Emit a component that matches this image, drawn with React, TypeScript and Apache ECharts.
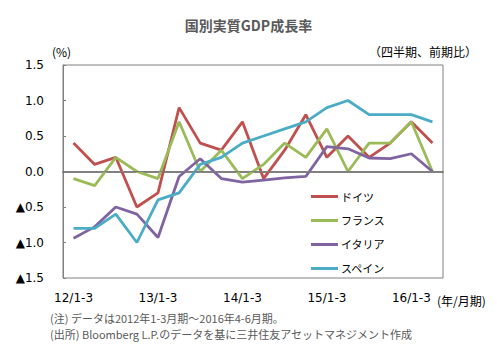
import React, { useEffect, useRef } from "react";
import * as echarts from "echarts";

const categories = [
  "12/1-3", "12/4-6", "12/7-9", "12/10-12",
  "13/1-3", "13/4-6", "13/7-9", "13/10-12",
  "14/1-3", "14/4-6", "14/7-9", "14/10-12",
  "15/1-3", "15/4-6", "15/7-9", "15/10-12",
  "16/1-3", "16/4-6",
];
const germany = [0.4, 0.1, 0.2, -0.5, -0.3, 0.9, 0.4, 0.3, 0.7, -0.1, 0.3, 0.8, 0.2, 0.5, 0.2, 0.4, 0.7, 0.4];
const france = [-0.1, -0.2, 0.2, 0.0, -0.1, 0.7, 0.0, 0.3, -0.1, 0.1, 0.4, 0.2, 0.6, 0.0, 0.4, 0.4, 0.7, 0.0];
const italy = [-0.94, -0.78, -0.5, -0.6, -0.93, -0.07, 0.18, -0.1, -0.15, -0.12, -0.09, -0.07, 0.35, 0.32, 0.19, 0.18, 0.25, 0.0];
const spain = [-0.8, -0.8, -0.6, -1.0, -0.4, -0.3, 0.1, 0.2, 0.4, 0.5, 0.6, 0.7, 0.9, 1.0, 0.8, 0.8, 0.8, 0.7];
const seriesNames = ["ドイツ", "フランス", "イタリア", "スペイン"];
const colors = ["#c0504d", "#9bbb59", "#8064a2", "#4bacc6"];
const notes = [
  "(注) データは2012年1-3月期～2016年4-6月期。",
  "(出所) Bloomberg L.P.のデータを基に三井住友アセットマネジメント作成",
];

const JP = "'Noto Sans CJK JP', 'Noto Sans', sans-serif";
const NUM = "'DejaVu Sans', 'Noto Sans CJK JP', sans-serif";

export default function App() {
  const ref = useRef<HTMLDivElement>(null);
  useEffect(() => {
    document.body.style.margin = "0";
    if (!ref.current) return;
    const chart = echarts.init(ref.current, undefined, { renderer: "svg" });
    const datasets = [germany, france, italy, spain];
    chart.setOption({
      animation: false,
      backgroundColor: "#ffffff",
      title: {
        text: "国別実質GDP成長率",
        left: "center",
        top: 13,
        textStyle: { fontFamily: JP, fontSize: 14, fontWeight: "bold", color: "#595959" },
      },
      legend: {
        orient: "vertical",
        left: 306,
        top: 186,
        itemWidth: 27,
        itemHeight: 3,
        itemGap: 13,
        icon: "rect",
        data: seriesNames,
        textStyle: { fontFamily: JP, fontSize: 11, color: "#000", padding: [0, 0, 0, -2] },
      },
      grid: {
        left: 63,
        top: 65,
        width: 380,
        height: 213,
        show: true,
        borderColor: "#808080",
        borderWidth: 1,
      },
      xAxis: {
        type: "category",
        data: categories,
        boundaryGap: true,
        axisLine: { show: true, lineStyle: { color: "#595959", width: 1.5 } },
        axisTick: { show: false },
        axisLabel: {
          interval: 3,
          margin: 14,
          fontFamily: NUM,
          fontSize: 12,
          color: "#000",
        },
        splitLine: { show: false },
      },
      yAxis: {
        type: "value",
        min: -1.5,
        max: 1.5,
        interval: 0.5,
        axisLine: { show: true, lineStyle: { color: "#808080" } },
        axisTick: { show: true, inside: true, length: 3, lineStyle: { color: "#808080" } },
        axisLabel: {
          margin: 19,
          fontFamily: NUM,
          fontSize: 12,
          color: "#000",
          formatter: (v: number) => (v < 0 ? "▲" + Math.abs(v).toFixed(1) : v.toFixed(1)),
        },
        splitLine: { show: false },
      },
      series: [
        {
          type: "line",
          name: "zero",
          data: [],
          z: 1,
          silent: true,
          markLine: {
            silent: true,
            symbol: "none",
            label: { show: false },
            lineStyle: { color: "#808080", width: 1, type: "solid" },
            data: [{ yAxis: 0 }],
          },
        },
        ...seriesNames.map((n, i) => ({
          type: "line",
          name: n,
          data: datasets[i],
          z: 2,
          showSymbol: false,
          symbol: "none",
          color: colors[i],
          lineStyle: { color: colors[i], width: 2.8 },
        })),
      ],
      graphic: [
        {
          type: "text",
          left: 52,
          top: 45,
          style: { text: "(%)", fontFamily: JP, fontSize: 12, fill: "#000" },
        },
        {
          type: "text",
          right: 20,
          top: 45,
          style: { text: "（四半期、前期比）", fontFamily: JP, fontSize: 12, fill: "#000" },
        },
        {
          type: "text",
          left: 437,
          top: 294,
          style: { text: "(年/月期)", fontFamily: JP, fontSize: 12, fill: "#000" },
        },
        {
          type: "text",
          left: 50,
          top: 310,
          style: {
            text: notes.join("\n"),
            fontFamily: JP,
            fontSize: 11,
            lineHeight: 16,
            fill: "#595959",
          },
        },
      ],
    });
    return () => chart.dispose();
  }, []);
  return <div ref={ref} style={{ width: 497, height: 349 }} />;
}
